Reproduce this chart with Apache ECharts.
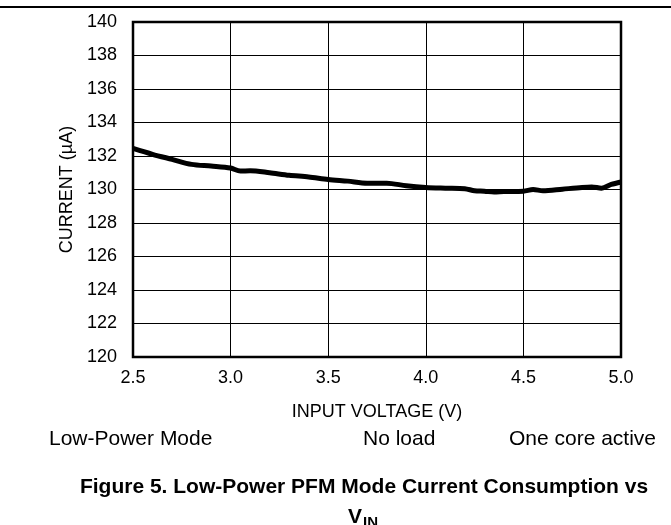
<!DOCTYPE html>
<html>
<head>
<meta charset="utf-8">
<script src="https://cdn.jsdelivr.net/npm/echarts@6/dist/echarts.min.js"></script>
<style>
    html, body { margin: 0; padding: 0; background: #fff; }
    #chart { width: 671px; height: 525px; }
</style>
</head>
<body>
<div id="chart"></div>
<script>
var voltage = [2.5, 2.6, 2.7, 2.8, 2.9, 3.0, 3.05, 3.1, 3.2, 3.3, 3.4, 3.5, 3.6, 3.7, 3.8, 3.9,
    4.0, 4.1, 4.2, 4.25, 4.3, 4.35, 4.4, 4.5, 4.55, 4.6, 4.7, 4.8, 4.85, 4.9, 4.95, 5.0];
var current = [132.45, 132.1, 131.8, 131.5, 131.4, 131.28, 131.1, 131.12, 131.0, 130.85, 130.75, 130.6, 130.5, 130.38, 130.38, 130.22,
    130.12, 130.08, 130.05, 129.92, 129.9, 129.85, 129.88, 129.9, 130.0, 129.92, 130.02, 130.12, 130.15, 130.08, 130.3, 130.45];
var conditions = ["Low-Power Mode", "No load", "One core active"];
var caption = "Figure 5. Low-Power PFM Mode Current Consumption vs";

var FONT = "'Liberation Sans', Arial, sans-serif";

/**
 * 初始化图表
 * @param id 容器id
 */
function initChart(id) {
    var container = echarts.init(document.getElementById(id));
    var points = voltage.map(function (v, i) { return [v, current[i]]; });
    var option = {
        animation: false,
        grid: { left: 133, right: 50, top: 22, bottom: 168 },
        xAxis: {
            type: 'value',
            min: 2.5,
            max: 5.0,
            interval: 0.5,
            name: 'INPUT VOLTAGE (V)',
            nameLocation: 'middle',
            nameGap: 46,
            nameTextStyle: { color: '#000', fontSize: 18, fontFamily: FONT },
            axisLine: { show: false },
            axisTick: { show: false },
            axisLabel: {
                color: '#000', fontSize: 18, fontFamily: FONT, margin: 12,
                formatter: function (v) { return v.toFixed(1); }
            },
            splitLine: { show: true, lineStyle: { color: '#000', width: 1 } }
        },
        yAxis: {
            type: 'value',
            min: 120,
            max: 140,
            interval: 2,
            name: 'CURRENT (\u00b5A)',
            nameLocation: 'middle',
            nameGap: 54,
            nameTextStyle: { color: '#000', fontSize: 18, fontFamily: FONT },
            axisLine: { show: false },
            axisTick: { show: false },
            axisLabel: { color: '#000', fontSize: 18, fontFamily: FONT, margin: 16 },
            splitLine: { show: true, lineStyle: { color: '#000', width: 1 } }
        },
        series: [{
            type: 'line',
            data: points,
            showSymbol: false,
            smooth: 0.3,
            lineStyle: { color: '#000', width: 5 },
            z: 3
        }],
        graphic: [
            // plot frame
            { type: 'rect', shape: { x: 133, y: 22, width: 488, height: 335 },
              style: { fill: null, stroke: '#000', lineWidth: 2.5 }, z: 10 },
            // page rule
            { type: 'line', shape: { x1: 0, y1: 7, x2: 671, y2: 7 },
              style: { stroke: '#000', lineWidth: 2 } },
            { type: 'text', x: 49, y: 439,
              style: { text: conditions[0], fill: '#000', font: '21px ' + FONT, verticalAlign: 'middle' } },
            { type: 'text', x: 363, y: 439,
              style: { text: conditions[1], fill: '#000', font: '21px ' + FONT, verticalAlign: 'middle' } },
            { type: 'text', x: 656, y: 439,
              style: { text: conditions[2], fill: '#000', font: '21px ' + FONT, align: 'right', verticalAlign: 'middle' } },
            { type: 'text', x: 364, y: 487,
              style: { text: caption, fill: '#000', font: 'bold 21px ' + FONT, align: 'center', verticalAlign: 'middle' } },
            { type: 'text', x: 348, y: 517,
              style: { text: 'V', fill: '#000', font: 'bold 21px ' + FONT, verticalAlign: 'middle' } },
            { type: 'text', x: 363, y: 523,
              style: { text: 'IN', fill: '#000', font: 'bold 15px ' + FONT, verticalAlign: 'middle' } }
        ]
    };
    container.setOption(option);
}

initChart("chart");
</script>
</body>
</html>
